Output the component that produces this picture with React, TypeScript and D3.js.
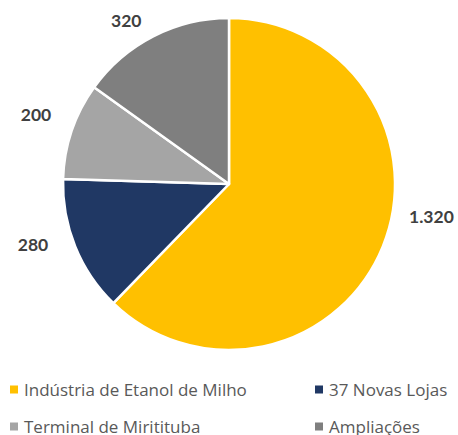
import React from "react";
import * as d3 from "d3";

const categories = ["Indústria de Etanol de Milho", "37 Novas Lojas", "Terminal de Miritituba", "Ampliações"];
const values = [1320, 280, 200, 320];
const valueLabels = ["1.320", "280", "200", "320"];
const colors = ["#FFC000", "#203864", "#A5A5A5", "#7F7F7F"];
// Excel-like label angle adjustments (degrees)
const labelAngleShift = [-13, 5, 1, -5];
const labelRadiusShift = [0, 0, 0, -12];

const W = 458, H = 435;
const cx = 229, cy = 184, R = 166;
const FONT = "Lato, 'Open Sans', sans-serif";
const LEG_FONT = "'Open Sans', sans-serif";

export default function App() {
  const pie = d3.pie<number>().sort(null).value((d) => d);
  const arcs = pie(values);
  const arc = d3.arc<d3.PieArcDatum<number>>().innerRadius(0).outerRadius(R);
  const labelR = 205;

  const legendPos = [
    { x: 10, y: 389 },
    { x: 315, y: 389 },
    { x: 10, y: 426 },
    { x: 315, y: 426 },
  ];

  return (
    <svg width={W} height={H} style={{ position: "absolute", left: 0, top: 0, background: "#fff" }}>
      <g transform={`translate(${cx},${cy})`}>
        {arcs.map((a, i) => (
          <path key={i} d={arc(a) || ""} fill={colors[i]} stroke="#fff" strokeWidth={2.5} strokeLinejoin="round" />
        ))}
        {arcs.map((a, i) => {
          const mid = (a.startAngle + a.endAngle) / 2 + (labelAngleShift[i] * Math.PI) / 180;
          const r = labelR + labelRadiusShift[i];
          const x = Math.sin(mid) * r;
          const y = -Math.cos(mid) * r;
          return (
            <text key={i} x={x} y={y} textAnchor="middle" dominantBaseline="central"
              fontFamily={FONT} fontWeight={700} fontSize={17.5} fill="#404040">
              {valueLabels[i]}
            </text>
          );
        })}
      </g>
      {categories.map((c, i) => (
        <g key={c} transform={`translate(${legendPos[i].x},${legendPos[i].y})`}>
          <rect x={0} y={-3.5} width={8} height={8} fill={colors[i]} />
          <text x={14} y={0.5} dominantBaseline="central" fontFamily={LEG_FONT} fontSize={17} fill="#595959">{c}</text>
        </g>
      ))}
    </svg>
  );
}
